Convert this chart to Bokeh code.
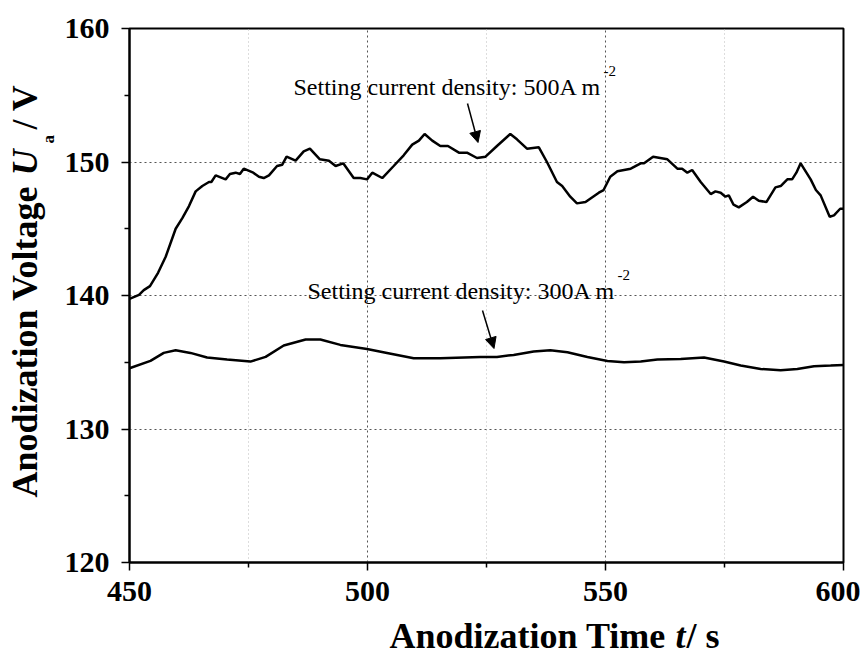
import math
from bokeh.plotting import figure
from bokeh.models import Range1d, Label, Arrow, NormalHead, FixedTicker
from bokeh.layouts import row, column
from bokeh.embed import file_html
from bokeh.resources import INLINE

# ---- data ----
t500 = [450.0, 452.0, 453.0, 454.3, 456.0, 457.6, 459.7, 461.1, 462.5, 463.9, 465.3, 466.7, 467.2,
        468.1, 470.2, 471.1, 472.3, 473.2, 474.0, 476.0, 477.2, 478.2, 479.3, 481.0, 482.1, 483.0,
        484.9, 486.6, 487.9, 490.0, 491.9, 493.3, 494.9, 497.1, 498.5, 499.9, 501.0, 503.1, 505.5,
        507.6, 509.4, 510.8, 512.0, 513.6, 515.3, 516.9, 519.2, 520.9, 523.0, 524.8, 527.2, 530.0,
        531.4, 533.5, 536.0, 537.7, 539.8, 540.9, 542.6, 544.0, 545.8, 548.6, 549.6, 551.0, 552.5,
        555.3, 557.4, 558.1, 560.0, 563.0, 565.1, 566.1, 567.2, 568.2, 570.0, 572.1, 573.1, 574.2,
        575.2, 575.9, 576.9, 578.0, 579.7, 581.0, 582.2, 583.8, 585.7, 586.8, 588.2, 589.2, 590.1,
        591.0, 593.1, 594.2, 595.2, 597.1, 598.0, 599.3, 600.0]
v500 = [139.75, 140.05, 140.4, 140.7, 141.7, 142.9, 145.0, 145.8, 146.7, 147.8, 148.2, 148.5, 148.5,
        149.0, 148.7, 149.1, 149.2, 149.1, 149.5, 149.2, 148.9, 148.8, 149.0, 149.7, 149.8, 150.4,
        150.1, 150.8, 151.0, 150.2, 150.1, 149.7, 149.9, 148.8, 148.8, 148.7, 149.2, 148.8, 149.7,
        150.5, 151.3, 151.6, 152.1, 151.6, 151.2, 151.2, 150.7, 150.7, 150.3, 150.4, 151.2, 152.1,
        151.7, 151.0, 151.1, 150.0, 148.5, 148.2, 147.4, 146.9, 147.0, 147.7, 147.9, 148.9, 149.3,
        149.5, 149.9, 149.9, 150.4, 150.2, 149.5, 149.5, 149.2, 149.4, 148.5, 147.6, 147.8, 147.7,
        147.4, 147.5, 146.8, 146.6, 147.0, 147.4, 147.1, 147.0, 148.1, 148.2, 148.7, 148.7, 149.2,
        149.9, 148.7, 147.9, 147.5, 145.9, 146.0, 146.5, 146.5]

t300 = [450.0, 454.4, 457.2, 459.7, 462.8, 466.3, 470.5, 475.4, 478.6, 482.4, 487.0, 490.1, 494.3,
        499.9, 504.1, 509.7, 515.3, 523.7, 527.2, 530.7, 534.9, 538.4, 542.0, 546.2, 550.4, 553.9,
        557.4, 560.9, 565.8, 570.7, 574.9, 578.4, 582.6, 586.8, 590.3, 593.8, 597.3, 600.0]
v300 = [134.55, 135.1, 135.7, 135.9, 135.7, 135.35, 135.2, 135.05, 135.4, 136.25, 136.7, 136.7, 136.3,
        136.0, 135.7, 135.3, 135.3, 135.4, 135.4, 135.55, 135.8, 135.9, 135.75, 135.4, 135.1, 135.0,
        135.05, 135.2, 135.25, 135.35, 135.05, 134.75, 134.5, 134.4, 134.5, 134.7, 134.75, 134.8]

x_ticks = [450, 500, 550, 600]
y_ticks = [120, 130, 140, 150, 160]
x_minor = [475, 525, 575]
y_minor = [125, 135, 145, 155]

label500 = "Setting current density: 500A m"
label300 = "Setting current density: 300A m"
x_title = ["Anodization Time", "t", "/ s"]
y_title = ["Anodization Voltage", "U", "a", "/ V"]
FONT = "Liberation Serif"

# ---- layout (whole-page pixel positions) ----
TOTAL_H = 651
LW = 60            # width of the left strip holding the y title
MW, MH = 800, 615  # main figure
BH = TOTAL_H - MH  # strip under the main figure holding the x title
FL, FR, FT, FB = 129, 843, 28, 562
KB = 0.34          # observed baseline drop of labels, as a fraction of font size

def pt(X, Y):
    return 450 + (X - FL) * 150.0 / (FR - FL), 160 - (Y - FT) * 40.0 / (FB - FT)

p = figure(width=MW, height=MH, output_backend="svg", toolbar_location=None, title=None,
           x_range=Range1d(450, 600), y_range=Range1d(120, 160),
           min_border_left=FL - LW, min_border_top=FT,
           min_border_right=MW - (FR - LW), min_border_bottom=MH - FB)
p.background_fill_color = "white"
p.border_fill_color = "white"
p.outline_line_color = "black"
p.outline_line_width = 2

for ax, ticks, minor in ((p.xaxis[0], x_ticks, x_minor), (p.yaxis[0], y_ticks, y_minor)):
    ax.ticker = FixedTicker(ticks=ticks, minor_ticks=minor)
    ax.axis_line_width = 2
    ax.axis_line_color = "black"
    ax.major_tick_line_width = 1.5
    ax.minor_tick_line_width = 1.5
    ax.major_tick_out = 8
    ax.major_tick_in = 0
    ax.minor_tick_out = 5
    ax.minor_tick_in = 0
    ax.major_label_text_font = FONT
    ax.major_label_text_font_style = "bold"
    ax.major_label_text_font_size = "30px"
    ax.major_label_text_color = "black"
p.xaxis.major_label_standoff = 11
p.yaxis.major_label_standoff = 12

p.xgrid.ticker = FixedTicker(ticks=x_ticks, minor_ticks=x_minor)
p.ygrid.ticker = FixedTicker(ticks=y_ticks)
p.xgrid.grid_line_color = "#555555"
p.xgrid.grid_line_dash = "2 3"
p.xgrid.grid_line_width = 1
p.xgrid.minor_grid_line_color = "#bbbbbb"
p.xgrid.minor_grid_line_dash = "1 3"
p.xgrid.minor_grid_line_width = 1
p.ygrid.grid_line_color = "#555555"
p.ygrid.grid_line_dash = "2 3"
p.ygrid.grid_line_width = 1

p.line(t500, v500, line_color="black", line_width=2.5)
p.line(t300, v300, line_color="black", line_width=2.5)

def lab(X, Y, text, size, style="normal"):
    x, y = pt(X, Y - KB * size)
    p.add_layout(Label(x=x, y=y, text=text, text_font=FONT, text_font_size=f"{size}px",
                       text_font_style=style, text_color="black", text_align="left",
                       text_baseline="alphabetic"))

# annotations
lab(293, 95, label500, 24)
lab(603, 76, "-2", 15)
lab(307, 299, label300, 24)
lab(617, 280, "-2", 15)

for (X0, Y0, X1, Y1) in ((467, 103, 477.5, 142), (482, 310, 493.5, 348)):
    xs, ys = pt(X0, Y0)
    xe, ye = pt(X1, Y1)
    p.add_layout(Arrow(x_start=xs, y_start=ys, x_end=xe, y_end=ye, line_width=1.5,
                       line_color="black",
                       end=NormalHead(size=11, fill_color="black", line_color="black", line_width=1)))

def strip(w, h):
    f = figure(width=w, height=h, output_backend="svg", toolbar_location=None, title=None,
               x_axis_type=None, y_axis_type=None, min_border=0,
               x_range=Range1d(0, w), y_range=Range1d(0, h))
    f.outline_line_color = None
    f.background_fill_color = "white"
    f.border_fill_color = "white"
    return f

def hlab(f, X, Y, text, size, style):
    # horizontal text: X from strip left, Y = page baseline
    f.add_layout(Label(x=X, y=TOTAL_H - Y + KB * size, x_units="screen", y_units="screen",
                       text=text, text_font=FONT, text_font_size=f"{size}px",
                       text_font_style=style, text_color="black", text_align="left",
                       text_baseline="alphabetic"))

def vlab(f, X, Y, text, size, style):
    # text rotated to read upward: X = baseline column, Y = page start of text
    f.add_layout(Label(x=X - KB * size, y=TOTAL_H - Y, x_units="screen", y_units="screen",
                       text=text, text_font=FONT, text_font_size=f"{size}px",
                       text_font_style=style, text_color="black", text_align="left",
                       text_baseline="alphabetic", angle=math.pi / 2, angle_units="rad"))

# y title strip
left = strip(LW, TOTAL_H)
vlab(left, 37, 497, y_title[0], 36, "bold")
vlab(left, 37, 175, y_title[1], 36, "bold italic")
vlab(left, 54, 143, y_title[2], 17, "bold")
vlab(left, 37, 129, y_title[3], 36, "bold")

# x title strip
bottom = strip(MW, BH)
hlab(bottom, 320 - LW, 648, x_title[0], 36, "bold")
hlab(bottom, 606 - LW, 648, x_title[1], 36, "bold italic")
hlab(bottom, 617 - LW, 648, x_title[2], 36, "bold")

page = row(left, column(p, bottom, spacing=0), spacing=0)
open("out.html", "w").write(file_html(page, INLINE))
